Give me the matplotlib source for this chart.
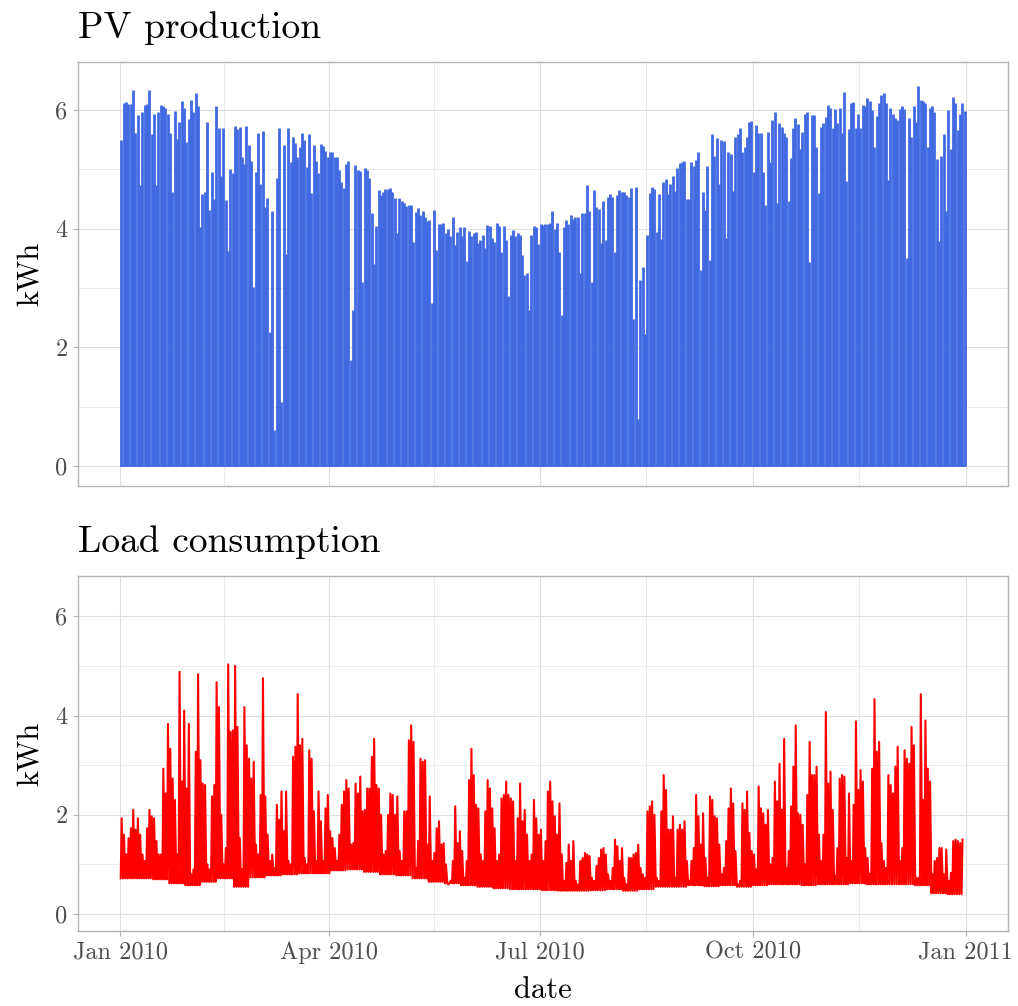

import numpy as np
import pandas as pd
import matplotlib

matplotlib.use("Agg")
import matplotlib.pyplot as plt
import matplotlib.dates as mdates

# daily PV peak (kWh), one value per day, split by quarter-ish blocks
pv_peak_q1 = [
    5.49, 6.12, 6.14, 6.10, 6.10, 6.34, 5.61, 5.92, 4.74, 5.96,
    6.08, 6.10, 6.34, 5.60, 5.93, 4.74, 5.96, 6.08, 6.07, 6.03,
    5.94, 5.62, 4.61, 5.99, 5.51, 5.80, 6.15, 6.03, 5.46, 5.85,
    6.17, 5.96, 6.29, 6.07, 4.02, 4.58, 4.61, 5.80, 4.31, 4.96,
    4.50, 6.06, 5.69, 4.88, 5.70, 4.48, 3.63, 5.00, 4.94, 5.73,
    5.68, 5.71, 5.20, 5.09, 5.73, 5.41, 5.14, 3.01, 4.96, 5.61,
    4.76, 5.65, 4.37, 4.52, 2.25, 4.30, 0.61, 4.86, 5.69, 1.07,
    5.41, 3.57, 5.70, 5.13, 5.54, 5.45, 5.21, 5.38, 5.62, 5.49,
    5.04, 5.60, 4.60, 5.41, 5.14, 4.94, 5.43, 5.40, 5.31, 5.21,
    5.29, 5.30,
]
pv_peak_q2 = [
    5.21, 5.20, 4.99, 4.78, 4.68, 5.09, 5.14, 1.78, 2.63, 5.07,
    4.99, 4.97, 3.10, 5.03, 4.99, 4.85, 4.27, 3.40, 4.05, 4.65,
    4.57, 4.61, 4.67, 4.66, 4.69, 4.62, 4.51, 3.92, 4.52, 4.46,
    4.43, 4.38, 4.39, 4.40, 3.78, 4.28, 4.34, 4.23, 4.30, 4.20,
    4.12, 4.15, 2.74, 4.31, 3.64, 4.07, 4.08, 4.09, 3.92, 3.99,
    3.88, 4.19, 3.72, 3.95, 4.02, 3.87, 4.02, 3.46, 3.96, 3.88,
    3.92, 3.94, 3.76, 3.80, 3.89, 3.67, 4.06, 4.05, 3.84, 3.78,
    4.09, 4.05, 3.60, 4.05, 3.81, 2.87, 3.89, 3.98, 3.88, 3.92,
    3.89, 3.55, 3.22, 3.26, 2.63, 3.89, 4.05, 4.03, 3.74, 4.08,
    4.06, 4.07,
]
pv_peak_q3 = [
    4.08, 4.09, 4.29, 3.99, 4.10, 3.60, 2.54, 4.02, 4.15, 4.07,
    4.23, 4.17, 4.20, 4.19, 3.26, 4.26, 4.26, 4.74, 4.29, 3.10,
    4.65, 4.36, 4.33, 3.76, 4.46, 3.80, 4.54, 4.58, 4.54, 3.60,
    4.56, 4.65, 4.62, 4.62, 4.57, 4.53, 4.69, 2.48, 4.71, 0.79,
    3.13, 3.36, 2.22, 3.90, 4.60, 4.71, 4.67, 3.94, 4.58, 3.82,
    4.78, 4.84, 4.58, 4.75, 4.88, 4.63, 5.03, 5.11, 5.13, 5.14,
    4.50, 4.50, 5.13, 5.06, 5.16, 5.29, 3.31, 4.62, 4.31, 5.06,
    3.47, 5.59, 5.23, 5.52, 4.76, 5.49, 5.48, 3.85, 5.29, 5.26,
    4.64, 5.55, 5.59, 5.70, 5.30, 5.38, 5.54, 5.79, 5.81, 4.95,
    5.74, 5.62,
]
pv_peak_q4 = [
    5.62, 4.96, 4.40, 5.63, 5.13, 5.83, 5.96, 4.43, 5.78, 5.71,
    5.61, 5.55, 4.46, 5.19, 5.69, 5.86, 5.76, 5.35, 5.63, 5.93,
    5.96, 3.43, 5.92, 5.92, 5.37, 4.60, 5.72, 5.78, 5.88, 6.08,
    6.04, 5.69, 6.02, 5.78, 6.04, 5.62, 6.31, 4.80, 5.68, 6.11,
    6.13, 5.69, 5.93, 5.69, 6.08, 6.07, 6.21, 6.16, 6.00, 5.38,
    5.90, 6.11, 6.26, 6.29, 6.12, 4.82, 6.04, 5.94, 5.86, 5.83,
    6.01, 6.07, 6.01, 3.51, 5.87, 5.54, 6.06, 5.80, 6.40, 6.17,
    6.16, 6.12, 5.38, 6.04, 6.07, 5.96, 5.18, 3.79, 5.22, 5.60,
    4.29, 6.00, 5.35, 6.22, 6.12, 5.67, 5.94, 6.11, 5.99,
]

# daily load peak (kWh)
load_peak_q1 = [
    1.93, 1.60, 1.20, 1.53, 1.73, 2.10, 1.70, 1.93, 1.60, 1.20,
    1.07, 1.73, 2.10, 1.97, 1.93, 1.47, 1.20, 1.20, 2.93, 2.43,
    3.83, 3.33, 2.73, 2.30, 1.20, 4.88, 2.67, 4.10, 2.53, 3.83,
    0.80, 0.90, 3.27, 4.83, 3.10, 2.63, 2.60, 1.00, 0.90, 2.37,
    2.60, 4.67, 4.17, 2.00, 1.00, 1.33, 5.03, 3.67, 3.70, 5.00,
    3.77, 1.53, 0.90, 4.17, 3.40, 3.13, 2.73, 3.07, 1.40, 1.20,
    2.40, 4.75, 2.37, 1.60, 1.07, 1.20, 0.93, 2.20, 1.90, 2.47,
    1.67, 2.47, 1.07, 1.00, 3.17, 3.37, 4.43, 3.40, 3.53, 1.13,
    1.00, 3.30, 3.13, 2.07, 1.07, 2.47, 1.87, 1.07, 2.13, 2.40,
    1.67,
]
load_peak_q2 = [
    1.53, 1.33, 1.07, 1.60, 2.20, 2.47, 2.70, 2.53, 1.40, 1.43,
    2.63, 2.43, 2.77, 2.07, 2.10, 2.53, 2.53, 3.17, 3.53, 2.60,
    2.53, 2.00, 1.20, 1.27, 2.00, 2.43, 2.40, 2.00, 2.37, 1.27,
    1.07, 2.07, 2.07, 3.50, 3.80, 3.47, 0.93, 1.47, 3.13, 3.07,
    3.10, 1.40, 2.37, 1.07, 1.23, 1.73, 1.87, 1.40, 1.43, 1.00,
    0.60, 0.67, 1.07, 2.17, 1.43, 1.67, 1.27, 0.73, 1.07, 2.70,
    3.33, 2.80, 2.20, 2.13, 1.20, 1.07, 2.07, 2.70, 2.53, 2.13,
    1.73, 1.07, 1.20, 2.33, 2.40, 2.67, 2.40, 2.33, 2.27, 1.07,
    1.93, 2.63, 1.87, 2.10, 1.60, 1.07, 1.20, 2.30, 1.93, 1.60,
    1.70, 1.07,
]
load_peak_q3 = [
    1.47, 2.47, 2.67, 2.27, 1.97, 1.60, 2.23, 1.20, 0.67, 1.03,
    1.40, 1.07, 1.47, 0.67, 0.60, 1.07, 1.13, 1.23, 1.20, 1.17,
    0.73, 0.67, 0.97, 1.13, 1.30, 1.33, 1.20, 0.80, 0.67, 0.93,
    1.50, 1.37, 1.07, 1.33, 0.73, 0.60, 1.13, 1.13, 1.20, 1.23,
    1.40, 0.93, 0.80, 0.73, 2.07, 2.17, 2.27, 2.00, 0.73, 0.67,
    2.07, 2.80, 2.50, 1.70, 1.70, 1.97, 0.73, 1.70, 1.80, 1.70,
    1.87, 1.07, 0.67, 1.07, 1.33, 2.40, 1.97, 1.40, 2.03, 1.13,
    0.73, 2.37, 2.30, 1.97, 1.93, 1.40, 0.80, 0.93, 1.47, 2.13,
    2.53, 2.23, 1.27, 0.60, 0.67, 2.23, 2.10, 2.47, 1.63, 1.27,
    1.20, 0.90,
]
load_peak_q4 = [
    2.57, 2.13, 2.03, 1.80, 2.10, 1.00, 1.13, 2.67, 2.27, 3.03,
    2.10, 3.53, 0.93, 1.27, 2.17, 2.97, 3.80, 2.03, 2.00, 1.80,
    1.00, 2.40, 3.47, 2.80, 2.80, 2.97, 1.60, 1.07, 1.60, 4.07,
    2.63, 2.87, 2.10, 0.77, 1.33, 2.73, 2.80, 2.77, 1.13, 2.43,
    1.07, 2.20, 3.88, 2.50, 2.90, 2.67, 1.33, 1.13, 0.80, 2.93,
    4.33, 3.27, 3.47, 1.43, 1.07, 0.93, 2.80, 2.60, 2.43, 2.97,
    3.37, 1.07, 1.33, 3.30, 3.13, 3.03, 3.77, 3.40, 0.73, 0.73,
    4.43, 2.30, 3.90, 2.93, 2.67, 0.80, 1.07, 1.13, 1.33, 1.33,
    0.80, 1.30, 0.67, 0.83, 1.47, 1.50, 1.47, 1.43, 1.50,
]

# overnight base load (kWh), one value per week
load_base_weekly = [
    0.72, 0.72, 0.70, 0.62, 0.58, 0.65, 0.72, 0.55, 0.74,
    0.78, 0.80, 0.82, 0.82, 0.88, 0.90, 0.85, 0.80, 0.78,
    0.72, 0.65, 0.62, 0.58, 0.55, 0.52, 0.50, 0.50,
    0.48, 0.47, 0.47, 0.48, 0.50, 0.47, 0.50, 0.55, 0.55,
    0.58, 0.56, 0.58, 0.55, 0.58, 0.60, 0.60, 0.58, 0.60,
    0.60, 0.62, 0.60, 0.60, 0.60, 0.58, 0.42, 0.40, 0.65,
]

tick_dates = ["2010-01-01", "2010-04-01", "2010-07-01", "2010-10-01", "2011-01-01"]
tick_labels = ["Jan 2010", "Apr 2010", "Jul 2010", "Oct 2010", "Jan 2011"]

plt.rcParams["font.family"] = ["cmr10", "DejaVu Serif"]
plt.rcParams["axes.formatter.use_mathtext"] = True

pv_peak = np.concatenate([pv_peak_q1, pv_peak_q2, pv_peak_q3, pv_peak_q4])
load_peak = np.concatenate([load_peak_q1, load_peak_q2, load_peak_q3, load_peak_q4])

t0 = mdates.date2num(pd.Timestamp("2010-01-01"))
pv_x = t0 + np.arange(len(pv_peak)) + 0.5

n_load = len(load_peak)
load_base = np.repeat(load_base_weekly, 7)[:n_load]
day = t0 + np.arange(n_load)
load_x = np.column_stack([day + 0.2, day + 0.6]).ravel()
load_y = np.column_stack([load_base, load_peak]).ravel()

major = [mdates.date2num(pd.Timestamp(d)) for d in tick_dates]
minor = [(a + b) / 2 for a, b in zip(major[:-1], major[1:])]
span = major[-1] - major[0]

fig = plt.figure(figsize=(10.18, 10.06), dpi=100)
ax1 = fig.add_axes([0.0766, 0.5169, 0.9136, 0.4215])
ax2 = fig.add_axes([0.0766, 0.0746, 0.9136, 0.3528])

ax1.vlines(pv_x, 0, pv_peak, color="#4169E1", linewidth=2.0)
ax1.plot([pv_x[0], pv_x[-1]], [0, 0], color="#4169E1", linewidth=1.2)
ax2.plot(load_x, load_y, color="#FF0000", linewidth=1.5)

for ax, title in [(ax1, "PV production"), (ax2, "Load consumption")]:
    ax.set_xlim(major[0] - 0.05 * span, major[-1] + 0.05 * span)
    ax.set_ylim(-0.34, 6.81)
    ax.set_yticks([0, 2, 4, 6])
    ax.set_yticklabels(["0", "2", "4", "6"])
    ax.set_yticks([1, 3, 5], minor=True)
    ax.set_xticks(major)
    ax.set_xticks(minor, minor=True)
    ax.grid(True, which="major", color="#DEDEDE", linewidth=0.8)
    ax.grid(True, which="minor", color="#E8E8E8", linewidth=0.6)
    ax.set_axisbelow(True)
    ax.tick_params(which="major", length=3.5, width=0.8, color="#B3B3B3",
                   labelsize=17.5, labelcolor="#4D4D4D", pad=4)
    ax.tick_params(which="minor", length=0)
    for s in ax.spines.values():
        s.set_color("#B3B3B3")
        s.set_linewidth(1.0)
    ax.set_ylabel("kWh", fontsize=22, labelpad=8)
    ax.set_title(title, loc="left", fontsize=27, pad=17)

ax1.set_xticklabels([])
ax1.tick_params(axis="x", which="major", length=0)
ax2.set_xticklabels(tick_labels)
ax2.set_xlabel("date", fontsize=22, labelpad=9)

fig.savefig("out.png", dpi=100)
plt.close(fig)
